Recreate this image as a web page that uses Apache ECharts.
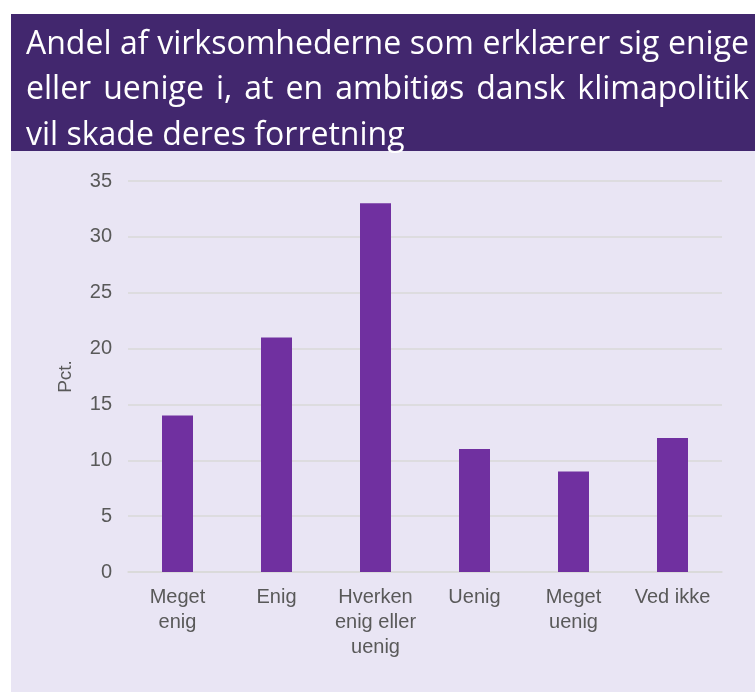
<!DOCTYPE html>
<html>
<head>
<meta charset="utf-8">
<script src="https://cdn.jsdelivr.net/npm/echarts@6/dist/echarts.min.js"></script>
<style>
html,body{margin:0;padding:0;background:#ffffff;}
#chart{width:755px;height:692px;}
</style>
</head>
<body>
<div id="chart"></div>
<script>
const titleLines = [
  'Andel af virksomhederne som erklærer sig enige',
  'eller uenige i, at en ambitiøs dansk klimapolitik',
  'vil skade deres forretning'
];
const categories = ['Meget\nenig', 'Enig', 'Hverken\nenig eller\nuenig', 'Uenig', 'Meget\nuenig', 'Ved ikke'];
const values = [14, 21, 33, 11, 9, 12];
const yTicks = [0, 5, 10, 15, 20, 25, 30, 35];
const yAxisName = 'Pct.';

// Title layout (justified like the reference)
const titleFont = '32px "Open Sans"';
const titleLeft = 26, titleRight = 749;
const titleMid = [45, 90, 136];
const justify = [true, true, false];
const ctx = document.createElement('canvas').getContext('2d');
ctx.font = titleFont;
const titleGraphics = [];
titleLines.forEach((line, i) => {
  const words = line.split(' ');
  if (!justify[i]) {
    titleGraphics.push({ type: 'text', x: titleLeft, y: titleMid[i],
      style: { text: line, font: titleFont, fill: '#ffffff', verticalAlign: 'middle', align: 'left' } });
    return;
  }
  const widths = words.map(w => ctx.measureText(w).width);
  const total = widths.reduce((a, b) => a + b, 0);
  const gap = (titleRight - titleLeft - total) / (words.length - 1);
  let x = titleLeft;
  words.forEach((w, j) => {
    titleGraphics.push({ type: 'text', x: x, y: titleMid[i],
      style: { text: w, font: titleFont, fill: '#ffffff', verticalAlign: 'middle', align: 'left' } });
    x += widths[j] + gap;
  });
});

const chart = echarts.init(document.getElementById('chart'));
chart.setOption({
  animation: false,
  backgroundColor: '#ffffff',
  graphic: [
    { type: 'rect', z: -10, shape: { x: 11, y: 151, width: 744, height: 541 }, style: { fill: '#E9E5F4' } },
    { type: 'rect', z: -10, shape: { x: 11, y: 14, width: 744, height: 137 }, style: { fill: '#42276E' } }
  ].concat(titleGraphics),
  grid: { left: 128, right: 33, top: 181, bottom: 120, containLabel: false },
  xAxis: {
    type: 'category',
    data: categories,
    axisLine: { lineStyle: { color: '#D9D9D9', width: 1.5 } },
    axisTick: { show: false },
    axisLabel: {
      color: '#595959', fontFamily: 'Liberation Sans', fontSize: 20, lineHeight: 25, margin: 13, interval: 0
    }
  },
  yAxis: {
    type: 'value',
    min: yTicks[0],
    max: yTicks[yTicks.length - 1],
    interval: 5,
    name: yAxisName,
    nameLocation: 'middle',
    nameGap: 53,
    nameRotate: 90,
    nameTextStyle: { color: '#595959', fontFamily: 'Liberation Sans', fontSize: 19 },
    axisLine: { show: false },
    axisTick: { show: false },
    splitLine: { lineStyle: { color: '#D9D9D9', width: 1.5 } },
    axisLabel: { color: '#595959', fontFamily: 'Liberation Sans', fontSize: 20, margin: 16 }
  },
  series: [{
    type: 'bar',
    data: values,
    barWidth: 31,
    itemStyle: { color: '#7030A0' }
  }]
});
</script>
</body>
</html>
